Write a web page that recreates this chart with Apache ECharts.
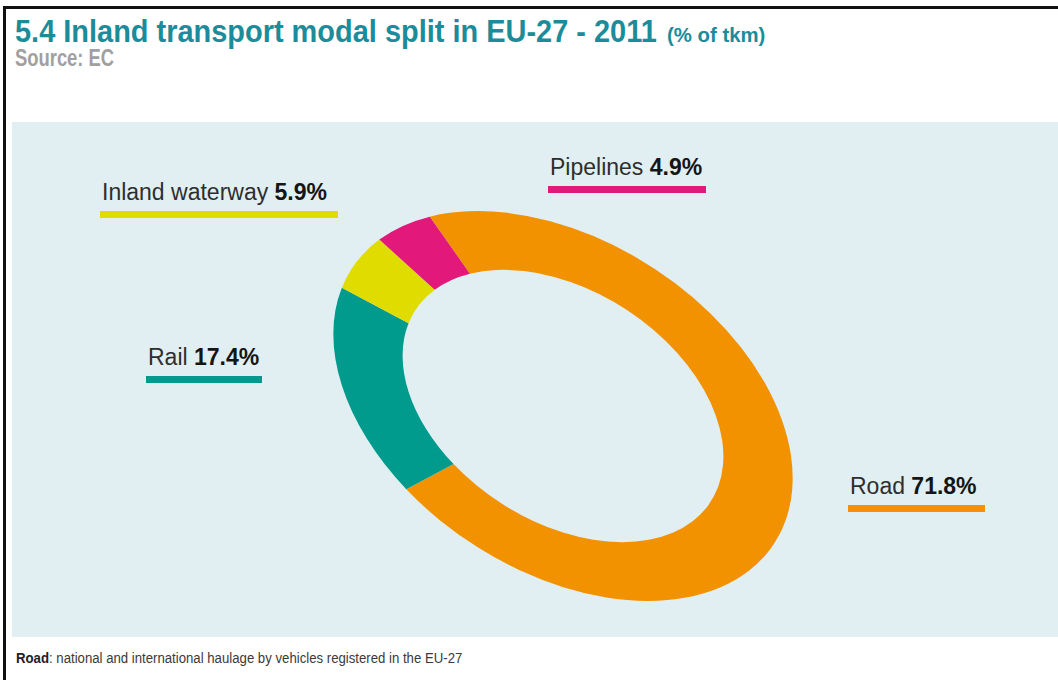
<!DOCTYPE html>
<html>
<head>
<meta charset="utf-8">
<title>Inland transport modal split in EU-27 - 2011</title>
<script src="https://cdn.jsdelivr.net/npm/echarts@6/dist/echarts.min.js"></script>
<style>
  html, body { margin: 0; padding: 0; background: #fff; }
  #wrap { position: relative; width: 1058px; height: 680px; overflow: hidden; }
  #main { position: absolute; left: 0; top: 0; width: 1058px; height: 680px; }
  /* the ring is a normal pie, tilted and squashed into an ellipse */
  #ring { position: absolute; left: 293px; top: 136px; width: 540px; height: 540px;
          transform: rotate(33deg) scaleY(0.655); transform-origin: 50% 50%; }
</style>
</head>
<body>
<div id="wrap"><div id="main"></div><div id="ring"></div></div>
<script>
var modes = ['Road', 'Rail', 'Inland waterway', 'Pipelines'];
var shares = [71.8, 17.4, 5.9, 4.9];
var colors = ['#f29200', '#009b8d', '#e1dc00', '#e2187b'];

// label layout: text left x, text middle y, underline width
var labelPos = [[850, 486, 137], [148, 357, 116], [102, 192, 238], [550, 167, 158]];

var sans = "'Liberation Sans', Arial, sans-serif";

var graphics = [
	// frame and light panel
	{ type: 'rect', shape: { x: 12, y: 122, width: 1046, height: 515 }, style: { fill: '#e1eff3' } },
	{ type: 'rect', shape: { x: 3, y: 6, width: 1055, height: 3 }, style: { fill: '#111' } },
	{ type: 'rect', shape: { x: 3, y: 6, width: 3, height: 674 }, style: { fill: '#111' } },
	// title, narrowed with scaleX to look like the condensed face
	{
		type: 'text', x: 15, y: 30, scaleX: 0.905,
		style: { text: '5.4 Inland transport modal split in EU-27 - 2011', font: 'bold 32px ' + sans, fill: '#1b8c99', verticalAlign: 'middle' }
	},
	{
		type: 'text', x: 667, y: 34, scaleX: 0.97,
		style: { text: '(% of tkm)', font: 'bold 21px ' + sans, fill: '#1b8c99', verticalAlign: 'middle' }
	},
	{
		type: 'text', x: 15, y: 58, scaleX: 0.8,
		style: { text: 'Source: EC', font: 'bold 23px ' + sans, fill: '#a0a0a0', verticalAlign: 'middle' }
	},
	{
		type: 'text', x: 16, y: 658, scaleX: 0.88,
		style: {
			text: '{b|Road}{n|: national and international haulage by vehicles registered in the EU-27}',
			verticalAlign: 'middle',
			rich: {
				b: { font: 'bold 15px ' + sans, fill: '#222' },
				n: { font: '15px ' + sans, fill: '#3a3a3a' }
			}
		}
	}
];

modes.forEach(function (name, i) {
	var p = labelPos[i];
	graphics.push({
		type: 'text', x: p[0], y: p[1],
		style: {
			text: '{n|' + name + ' }{v|' + shares[i].toFixed(1) + '%}',
			verticalAlign: 'middle',
			rich: {
				n: { font: '23px ' + sans, fill: '#2e2e2e' },
				v: { font: 'bold 23px ' + sans, fill: '#151515' }
			}
		}
	});
	graphics.push({
		type: 'rect', shape: { x: p[0] - 2, y: p[1] + 19, width: p[2], height: 7 },
		style: { fill: colors[i] }
	});
});

var mainChart = echarts.init(document.getElementById('main'), null, { renderer: 'svg' });
mainChart.setOption({
	backgroundColor: '#fff',
	animation: false,
	graphic: graphics
});

var ringChart = echarts.init(document.getElementById('ring'), null, { renderer: 'svg' });
ringChart.setOption({
	backgroundColor: 'transparent',
	animation: false,
	color: colors,
	series: [{
		type: 'pie',
		radius: [176, 252],
		center: ['50%', '50%'],
		startAngle: 148.5,
		clockwise: true,
		silent: true,
		label: { show: false },
		labelLine: { show: false },
		itemStyle: { borderWidth: 0 },
		data: modes.map(function (name, i) {
			return { name: name, value: shares[i] };
		})
	}]
});
</script>
</body>
</html>
